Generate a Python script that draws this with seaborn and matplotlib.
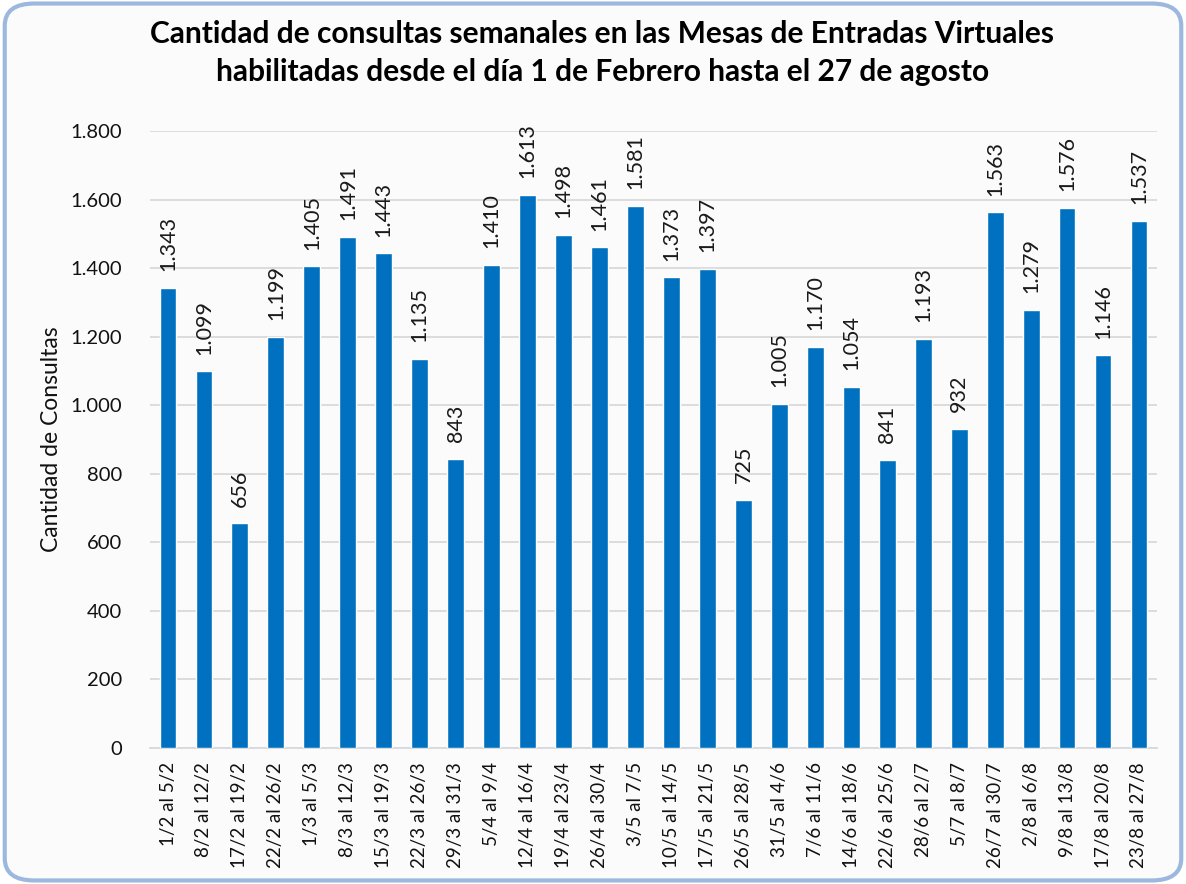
import numpy as np
import pandas as pd
import matplotlib
matplotlib.use("Agg")
import matplotlib.pyplot as plt
from matplotlib.patches import FancyBboxPatch
from matplotlib.ticker import FuncFormatter
import seaborn as sns

semanas = ["1/2 al 5/2", "8/2 al 12/2", "17/2 al 19/2", "22/2 al 26/2", "1/3 al 5/3",
           "8/3 al 12/3", "15/3 al 19/3", "22/3 al 26/3", "29/3 al 31/3", "5/4 al 9/4",
           "12/4 al 16/4", "19/4 al 23/4", "26/4 al 30/4", "3/5 al 7/5", "10/5 al 14/5",
           "17/5 al 21/5", "26/5 al 28/5", "31/5 al 4/6", "7/6 al 11/6", "14/6 al 18/6",
           "22/6 al 25/6", "28/6 al 2/7", "5/7 al 8/7", "26/7 al 30/7", "2/8 al 6/8",
           "9/8 al 13/8", "17/8 al 20/8", "23/8 al 27/8"]
consultas = [1343, 1099, 656, 1199, 1405, 1491, 1443, 1135, 843, 1410,
             1613, 1498, 1461, 1581, 1373, 1397, 725, 1005, 1170, 1054,
             841, 1193, 932, 1563, 1279, 1576, 1146, 1537]

df = pd.DataFrame({"semana": semanas, "consultas": consultas})

sns.set_theme(style="white")
plt.rcParams["font.family"] = ["Lato", "DejaVu Sans"]

fig = plt.figure(figsize=(11.86, 8.84), dpi=100)
fig.patch.set_facecolor("white")

# marco redondeado
marco = FancyBboxPatch((0.004, 0.004), 0.992, 0.992,
                       boxstyle="round,pad=0,rounding_size=0.025",
                       transform=fig.transFigure, facecolor="#FBFBFB",
                       edgecolor="#9DB8DE", linewidth=3, zorder=-5)
fig.patches.append(marco)

ax = fig.add_axes([0.1265, 0.1538, 0.849, 0.698])
ax.set_zorder(2)
ax.set_facecolor("none")

sns.barplot(data=df, x="semana", y="consultas", color="#0070C0",
            width=0.47, saturation=1, ax=ax, zorder=3)

fmt = lambda v: f"{int(v):,}".replace(",", ".")
ax.bar_label(ax.containers[0], labels=[fmt(v) for v in consultas],
             rotation=90, padding=12, fontsize=15.5, color="#1a1a1a")

ax.set_ylim(0, 1800)
ax.set_yticks(range(0, 1801, 200))
ax.yaxis.set_major_formatter(FuncFormatter(lambda v, p: fmt(v)))
ax.set_xlim(-0.5, len(semanas) - 0.5)
ax.grid(axis="y", color="#D9D9D9", linewidth=1.3, zorder=0)
for s in ["top", "right", "left"]:
    ax.spines[s].set_visible(False)
ax.spines["bottom"].set_color("#D9D9D9")
ax.spines["bottom"].set_linewidth(1.3)

ax.tick_params(axis="x", labelrotation=90, labelsize=13.5, length=0, pad=10, colors="#111111")
ax.tick_params(axis="y", labelsize=14.5, length=0, pad=20, colors="#111111")
ax.set_xlabel("")
ax.set_ylabel("Cantidad de Consultas", fontsize=16.5, color="#111111", labelpad=6)

fig.text(0.508, 0.977, "Cantidad de consultas semanales en las Mesas de Entradas Virtuales\n"
         "habilitadas desde el día 1 de Febrero hasta el 27 de agosto",
         ha="center", va="top", fontsize=21.5, fontweight="bold", linespacing=1.4,
         color="black")

fig.savefig("out.png", dpi=100)
